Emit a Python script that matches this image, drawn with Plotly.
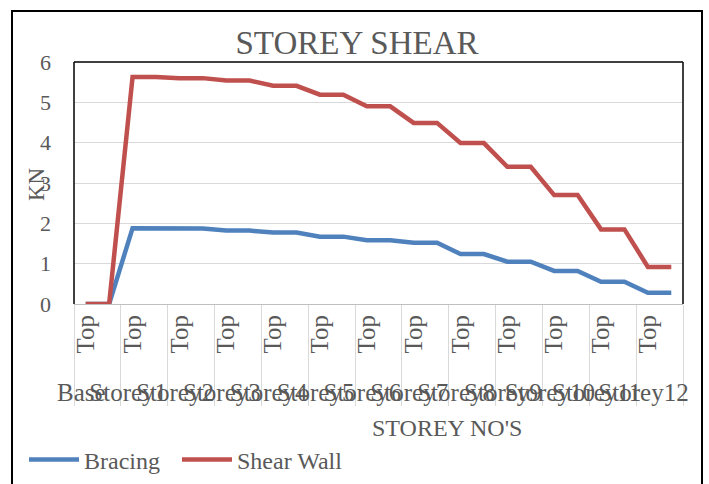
import plotly.graph_objects as go

storeys = ["Base"] + [f"Storey{i}" for i in range(1, 13)]
levels = ["Top", " "]

bracing = [0, 0, 1.88, 1.88, 1.87, 1.87, 1.82, 1.82, 1.77, 1.77, 1.67, 1.67,
           1.58, 1.58, 1.52, 1.52, 1.24, 1.24, 1.05, 1.05, 0.82, 0.82,
           0.55, 0.55, 0.28, 0.28]
shear_wall = [0, 0, 5.63, 5.63, 5.6, 5.6, 5.54, 5.54, 5.41, 5.41, 5.19, 5.19,
              4.9, 4.9, 4.49, 4.49, 3.99, 3.99, 3.4, 3.4, 2.7, 2.7,
              1.85, 1.85, 0.92, 0.92]

x_outer = [s for s in storeys for _ in levels]
x_inner = [lv for _ in storeys for lv in levels]

FONT = "Liberation Serif"
GRAY = "#595959"

fig = go.Figure()
fig.add_trace(go.Scatter(x=[x_outer, x_inner], y=bracing, mode="lines",
                         name="Bracing\u00a0\u00a0",
                         line=dict(color="#4F81BD", width=4.5)))
fig.add_trace(go.Scatter(x=[x_outer, x_inner], y=shear_wall, mode="lines", name="Shear Wall",
                         line=dict(color="#C0504D", width=4.5)))

W, H = 709, 484
L, R, T, B = 74, 26, 62, 180
pw, ph = W - L - R, H - T - B

def px(x):
    return (x - L) / pw

def py(y):
    return (H - B - y) / ph

n_pts = len(x_outer)

fig.update_layout(
    width=W, height=H,
    margin=dict(l=L, r=R, t=T, b=B, autoexpand=False),
    paper_bgcolor="white", plot_bgcolor="white",
    font=dict(family=FONT, color=GRAY, size=24),
    title=dict(text="STOREY SHEAR", x=px(357), xref="paper", xanchor="center",
               y=1 - 42 / H, yref="container", yanchor="middle",
               font=dict(family=FONT, size=33, color=GRAY)),
    showlegend=True,
    legend=dict(orientation="h", x=px(24), y=py(460), xanchor="left", yanchor="middle",
                font=dict(family=FONT, size=24, color=GRAY), itemwidth=50,
                bgcolor="rgba(0,0,0,0)"),
    xaxis=dict(type="multicategory", range=[-0.5, n_pts - 0.5], autorange=False,
               showgrid=False, showline=True, linecolor="#bfbfbf",
               linewidth=1, tickangle=-90, showdividers=True, dividercolor="#d9d9d9",
               dividerwidth=1, ticks="", tickfont=dict(family=FONT, size=25, color=GRAY)),
    yaxis=dict(range=[0, 6], dtick=1, showgrid=True, gridcolor="#d9d9d9", gridwidth=1,
               zeroline=False, showline=False, ticks="", ticklabelstandoff=22,
               tickfont=dict(family=FONT, size=22, color=GRAY)),
    annotations=[
        dict(text="KN", textangle=-90, x=px(36), y=py(184), xref="paper", yref="paper",
             xanchor="center", yanchor="middle",
             showarrow=False, font=dict(family=FONT, size=23, color=GRAY)),
        dict(text="STOREY NO'S", x=px(447), y=py(428), xref="paper", yref="paper",
             xanchor="center", yanchor="middle",
             showarrow=False, font=dict(family=FONT, size=24, color=GRAY)),
    ],
    shapes=[
        dict(type="rect", xref="paper", yref="paper", x0=px(12), x1=px(702), y0=py(495), y1=py(11),
             line=dict(color="black", width=2)),
        dict(type="line", xref="paper", yref="paper", x0=0, x1=1, y0=1, y1=1,
             line=dict(color="black", width=1.5)),
        dict(type="line", xref="paper", yref="paper", x0=0, x1=0, y0=0, y1=1,
             line=dict(color="black", width=1.5)),
        dict(type="line", xref="paper", yref="paper", x0=1, x1=1, y0=0, y1=1,
             line=dict(color="black", width=1.5)),
    ],
)

fig.write_html("out.html", config={"displayModeBar": False},
               post_script="document.body.style.margin='0';")
